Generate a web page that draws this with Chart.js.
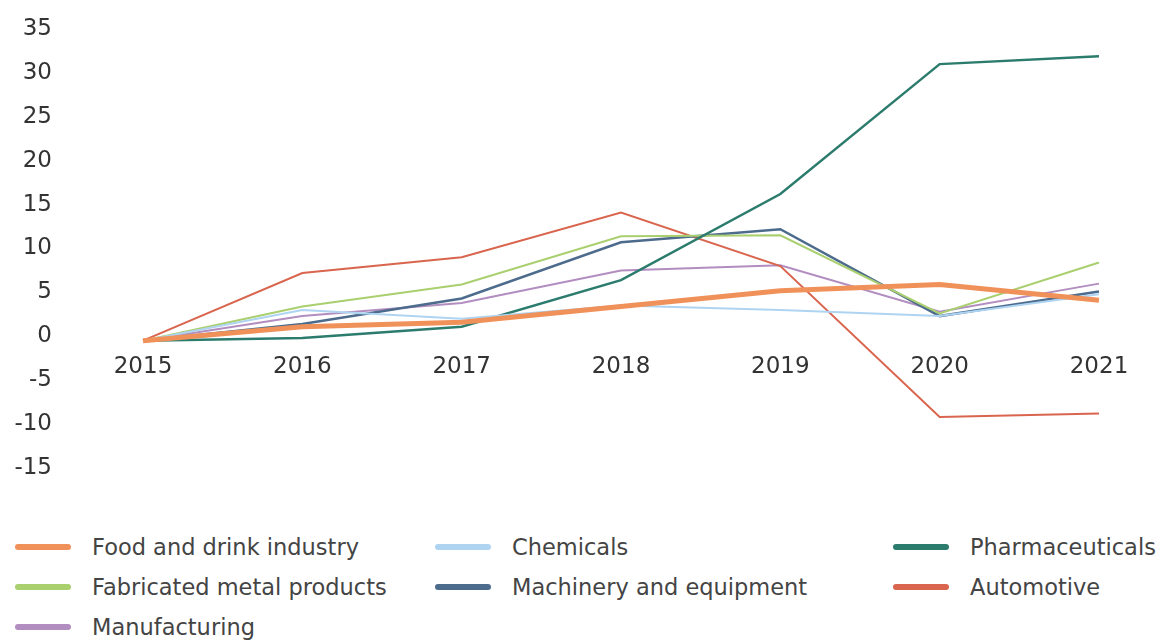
<!DOCTYPE html>
<html>
<head>
<meta charset="utf-8">
<script src="https://cdn.jsdelivr.net/npm/chart.js@4"></script>
<style>
    body { margin: 0; background: #fff; font-family: "DejaVu Sans", sans-serif; }
    #wrap { position: relative; width: 1168px; height: 640px; }
    #chartBox { position: absolute; left: 0; top: 0; width: 1168px; height: 490px; }
    #legend { position: absolute; left: 0; top: 527px; width: 1168px; }
    .item { position: absolute; height: 40px; display: flex; align-items: center; font-size: 22.5px; color: #444; white-space: nowrap; }
    .mark { display: inline-block; width: 56px; height: 6px; border-radius: 3px; margin-right: 21px; }
</style>
</head>
<body>
<div id="wrap">
    <div id="chartBox"><canvas id="lineChart"></canvas></div>
    <div id="legend"></div>
</div>
<script>
// Năm
var years = ['2015', '2016', '2017', '2018', '2019', '2020', '2021'];

// Số liệu từng ngành
var foodDrink = [-0.5, 1.1, 1.6, 3.4, 5.2, 5.9, 4.1];
var chemicals = [-0.5, 3.0, 2.0, 3.5, 3.0, 2.3, 4.8];
var pharma = [-0.5, -0.2, 1.1, 6.4, 16.2, 31.0, 31.9];
var fabricated = [-0.5, 3.4, 5.9, 11.4, 11.5, 2.6, 8.4];
var machinery = [-0.5, 1.4, 4.3, 10.7, 12.2, 2.3, 5.1];
var automotive = [-0.5, 7.2, 9.0, 14.1, 8.0, -9.2, -8.8];
var manufacturing = [-0.5, 2.3, 3.8, 7.5, 8.1, 2.8, 6.0];

var yTicks = [35, 30, 25, 20, 15, 10, 5, 0, -5, -10, -15];

var series = [
    { label: 'Food and drink industry', data: foodDrink, color: '#f0915a', width: 5 },
    { label: 'Chemicals', data: chemicals, color: '#aed4f2', width: 2 },
    { label: 'Pharmaceuticals', data: pharma, color: '#2c7c6e', width: 2.5 },
    { label: 'Fabricated metal products', data: fabricated, color: '#a9cf6f', width: 2 },
    { label: 'Machinery and equipment', data: machinery, color: '#4c6b8d', width: 2.5 },
    { label: 'Automotive', data: automotive, color: '#d9654e', width: 2 },
    { label: 'Manufacturing', data: manufacturing, color: '#b28dc0', width: 2 }
];

document.addEventListener('DOMContentLoaded', function() {
    var ctx = document.getElementById('lineChart').getContext('2d');
    var lineChart = new Chart(ctx, {
        type: 'line',
        data: {
            labels: years,
            datasets: series.map(function(s) {
                return {
                    label: s.label,
                    data: s.data,
                    borderColor: s.color,
                    backgroundColor: s.color,
                    borderWidth: s.width,
                    pointRadius: 0,
                    tension: 0,
                    fill: false
                };
            })
        },
        options: {
            responsive: true,
            maintainAspectRatio: false,
            animation: false,
            layout: { padding: { top: 29, right: 69, bottom: 22, left: 0 } },
            plugins: { legend: { display: false }, tooltip: { enabled: false } },
            scales: {
                x: {
                    position: { y: 0 },
                    offset: false,
                    grid: { display: false },
                    border: { display: false },
                    afterFit: function(axis) { axis.height = 0; },
                    ticks: { color: '#333', font: { family: 'DejaVu Sans', size: 23 }, padding: 9, maxRotation: 0 }
                },
                y: {
                    min: -15,
                    max: 35,
                    grid: { display: false },
                    border: { display: false },
                    afterBuildTicks: function(axis) {
                        axis.ticks = yTicks.map(function(v) { return { value: v }; });
                    },
                    afterFit: function(axis) {
                        // giữ lề trên/dưới nhỏ, padding ngang để nhãn canh phải ở x≈51
                        axis.width = 143;
                        axis.paddingTop = 0;
                        axis.paddingBottom = 0;
                    },
                    ticks: { color: '#333', font: { family: 'DejaVu Sans', size: 23 }, padding: 83 }
                }
            }
        }
    });

    // Chú thích dạng lưới 3 cột
    var cols = [15, 435, 893];
    var legend = document.getElementById('legend');
    series.forEach(function(s, i) {
        var div = document.createElement('div');
        div.className = 'item';
        div.style.left = cols[i % 3] + 'px';
        div.style.top = (Math.floor(i / 3) * 40) + 'px';
        div.innerHTML = '<span class="mark" style="background:' + s.color + '"></span>' + s.label;
        legend.appendChild(div);
    });
});
</script>
</body>
</html>
